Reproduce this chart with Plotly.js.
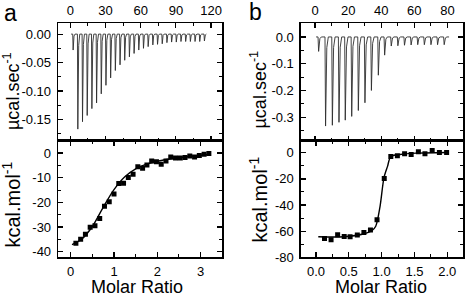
<!DOCTYPE html>
<html>
<head>
<meta charset="utf-8">
<script src="https://cdn.plot.ly/plotly-3.0.1.min.js"></script>
<style>html,body{margin:0;padding:0;background:#fff;}#chart{width:465px;height:298px;}</style>
</head>
<body>
<div id="chart"></div>
<script>
// ---------- Panel a : raw thermogram ----------
const injTimeA = [2, 6, 10, 14, 18, 22, 26, 30, 34, 38, 42, 46, 50, 54, 58, 62, 66, 70, 74, 78, 82, 86, 90, 94, 98, 102, 106, 110, 114];
const peakA = [-0.028, -0.167, -0.154, -0.143, -0.131, -0.121, -0.105, -0.090, -0.077, -0.064, -0.054, -0.046, -0.040, -0.034, -0.028, -0.025, -0.022, -0.019, -0.018, -0.017, -0.015, -0.014, -0.014, -0.013, -0.013, -0.013, -0.013, -0.013, -0.012];
const baseSpanA = [0.6, 116];
// ---------- Panel a : integrated heats ----------
const molarA = [0.12, 0.23, 0.34, 0.45, 0.56, 0.67, 0.78, 0.89, 1.00, 1.11, 1.22, 1.33, 1.44, 1.55, 1.66, 1.76, 1.87, 1.98, 2.09, 2.20, 2.31, 2.42, 2.53, 2.64, 2.75, 2.86, 2.97, 3.08, 3.19];
const heatA = [-36.6, -35.0, -32.9, -30.1, -29.5, -26.6, -21.6, -19.8, -16.6, -12.3, -12.2, -9.9, -8.6, -5.6, -6.2, -4.8, -3.2, -3.5, -4.5, -3.2, -1.6, -2.0, -2.0, -1.8, -1.2, -1.6, -1.0, -0.5, -0.2];
const fitXA = [0.03, 0.25, 0.5, 0.75, 1.0, 1.25, 1.5, 1.75, 2.0, 2.5, 3.2];
const fitYA = [-37.2, -35.0, -29.8, -22.0, -14.8, -9.6, -6.4, -4.5, -3.3, -1.9, -0.6];
// ---------- Panel b : raw thermogram ----------
const injTimeB = [1.8, 6.0, 10.1, 14.1, 17.9, 21.8, 25.8, 29.8, 33.7, 37.9, 41.7, 45.7, 49.7, 53.7, 57.7, 61.7, 65.7, 69.7, 73.7, 77.7];
const peakB = [-0.054, -0.333, -0.330, -0.319, -0.311, -0.297, -0.275, -0.246, -0.200, -0.143, -0.068, -0.034, -0.033, -0.031, -0.030, -0.029, -0.029, -0.029, -0.029, -0.029];
const baseSpanB = [0.6, 81];
// ---------- Panel b : integrated heats ----------
const molarB = [0.13, 0.23, 0.33, 0.43, 0.52, 0.63, 0.73, 0.83, 0.93, 1.04, 1.14, 1.24, 1.35, 1.45, 1.56, 1.66, 1.77, 1.88, 1.99];
const heatB = [-65.6, -66.5, -62.8, -64.1, -64.2, -62.9, -61.1, -59.1, -51.2, -19.6, -2.8, -2.3, -0.8, -1.3, 0.7, -0.8, 1.7, 0.2, 0.2];
const fitXB = [0.035, 0.42, 0.72, 0.85, 0.91, 0.975, 1.036, 1.09, 1.14, 1.28, 1.53, 1.99];
const fitYB = [-64.3, -64.3, -62.2, -59.7, -56.2, -41.4, -19.0, -10.4, -2.8, -1.3, -0.3, 0.2];
// ---------- tick labels ----------
const timeTicksA = [0, 30, 60, 90, 120];
const rateTicksA = [0, -0.05, -0.10, -0.15];
const rateLabelsA = ['0.00', '-0.05', '-0.10', '-0.15'];
const molarTicksA = [0, 1, 2, 3];
const heatTicksA = [0, -10, -20, -30, -40];
const heatLabelsA = ['0', '-10', '-20', '-30', '-40'];
const timeTicksB = [0, 20, 40, 60, 80];
const rateTicksB = [0, -0.1, -0.2, -0.3];
const rateLabelsB = ['0.0', '-0.1', '-0.2', '-0.3'];
const molarTicksB = [0, 0.5, 1.0, 1.5, 2.0];
const molarLabelsB = ['0.0', '0.5', '1.0', '1.5', '2.0'];
const heatTicksB = [0, -20, -40, -60, -80];
const heatLabelsB = ['0', '-20', '-40', '-60', '-80'];

// Build thermogram polyline from injection times & peak values
function thermogram(times, peaks, span) {
  const x = [span[0]], y = [0];
  for (let i = 0; i < times.length; i++) {
    const t = times[i], p = peaks[i];
    x.push(t, t + 0.35, t + 1.1, t + 2.0);
    y.push(0, p, p * 0.12, 0);
  }
  x.push(span[1]); y.push(0);
  return {x, y};
}
const thA = thermogram(injTimeA, peakA, baseSpanA);
const thB = thermogram(injTimeB, peakB, baseSpanB);

const FONT = 'Liberation Sans, Arial, Helvetica, sans-serif';
const spikeLine = {color: '#2e2e2e', width: 0.9};
const traces = [
  {x: thA.x, y: thA.y, xaxis: 'x', yaxis: 'y', mode: 'lines', line: spikeLine, hoverinfo: 'skip'},
  {x: fitXA, y: fitYA, xaxis: 'x2', yaxis: 'y2', mode: 'lines', line: {color: '#000', width: 1.4, shape: 'spline', smoothing: 1}},
  {x: molarA, y: heatA, xaxis: 'x2', yaxis: 'y2', mode: 'markers', marker: {symbol: 'square', size: 5, color: '#000'}},
  {x: thB.x, y: thB.y, xaxis: 'x3', yaxis: 'y3', mode: 'lines', line: spikeLine, hoverinfo: 'skip'},
  {x: fitXB, y: fitYB, xaxis: 'x4', yaxis: 'y4', mode: 'lines', line: {color: '#000', width: 1.4, shape: 'spline', smoothing: 0.8}},
  {x: molarB, y: heatB, xaxis: 'x4', yaxis: 'y4', mode: 'markers', marker: {symbol: 'square', size: 5, color: '#000'}}
];

const W = 465, H = 298;
const px = v => v / W, py = v => 1 - v / H;
const domA = [px(58.3), px(222.3)], domB = [px(301), px(463.3)];
const domUp = [py(140.5), py(23.3)], domLow = [py(257.3), py(140.5)];

function ax(extra, minorDt) {
  return Object.assign({
    showline: true, linecolor: '#000', linewidth: 1.6, mirror: 'allticks',
    ticks: 'inside', ticklen: 5, tickwidth: 1.2, tickcolor: '#000',
    showgrid: false, zeroline: false, tickmode: 'array',
    tickfont: {family: FONT, size: 13, color: '#000'},
    minor: {tickmode: 'linear', tick0: 0, dtick: minorDt, ticks: 'inside', ticklen: 3, tickwidth: 1, tickcolor: '#000', showgrid: false},
    fixedrange: true
  }, extra);
}

const layout = {
  width: W, height: H, margin: {l: 0, r: 0, t: 0, b: 0},
  paper_bgcolor: '#fff', plot_bgcolor: '#fff', showlegend: false,
  font: {family: FONT, color: '#000'},
  xaxis: ax({domain: domA, anchor: 'y', side: 'top', range: [-10.3, 129.6], tickvals: timeTicksA, ticktext: timeTicksA.map(String), ticklabelstandoff: 2}, 15),
  yaxis: ax({domain: domUp, anchor: 'x', range: [-0.187, 0.019], tickvals: rateTicksA, ticktext: rateLabelsA, ticklabelstandoff: 3}, 0.025),
  xaxis2: ax({domain: domA, anchor: 'y2', range: [-0.286, 3.50], tickvals: molarTicksA, ticktext: molarTicksA.map(String), ticklabelstandoff: 1}, 0.5),
  yaxis2: ax({domain: domLow, anchor: 'x2', range: [-42.3, 5.1], tickvals: heatTicksA, ticktext: heatLabelsA, ticklabelstandoff: 3}, 5),
  xaxis3: ax({domain: domB, anchor: 'y3', side: 'top', range: [-8.5, 89.6], tickvals: timeTicksB, ticktext: timeTicksB.map(String), ticklabelstandoff: 2}, 10),
  yaxis3: ax({domain: domUp, anchor: 'x3', range: [-0.387, 0.051], tickvals: rateTicksB, ticktext: rateLabelsB, ticklabelstandoff: 3}, 0.05),
  xaxis4: ax({domain: domB, anchor: 'y4', range: [-0.228, 2.244], tickvals: molarTicksB, ticktext: molarLabelsB, ticklabelstandoff: 1}, 0.25),
  yaxis4: ax({domain: domLow, anchor: 'x4', range: [-80, 9.4], tickvals: heatTicksB, ticktext: heatLabelsB, ticklabelstandoff: 3}, 10),
  annotations: [
    {text: 'a', x: px(10), y: py(13), xref: 'paper', yref: 'paper', showarrow: false, xanchor: 'center', yanchor: 'middle', font: {size: 23}},
    {text: 'b', x: px(255.5), y: py(12.5), xref: 'paper', yref: 'paper', showarrow: false, xanchor: 'center', yanchor: 'middle', font: {size: 23}},
    {text: 'µcal.sec<sup>-1</sup>', x: px(11.5), y: py(91.5), xref: 'paper', yref: 'paper', showarrow: false, textangle: -90, xanchor: 'center', yanchor: 'middle', font: {size: 18}},
    {text: 'µcal.sec<sup>-1</sup>', x: px(258.5), y: py(90), xref: 'paper', yref: 'paper', showarrow: false, textangle: -90, xanchor: 'center', yanchor: 'middle', font: {size: 18}},
    {text: 'kcal.mol<sup>-1</sup>', x: px(11.5), y: py(205), xref: 'paper', yref: 'paper', showarrow: false, textangle: -90, xanchor: 'center', yanchor: 'middle', font: {size: 20}},
    {text: 'kcal.mol<sup>-1</sup>', x: px(257.5), y: py(200), xref: 'paper', yref: 'paper', showarrow: false, textangle: -90, xanchor: 'center', yanchor: 'middle', font: {size: 20}},
    {text: 'Molar Ratio', x: px(137), y: py(286.5), xref: 'paper', yref: 'paper', showarrow: false, xanchor: 'center', yanchor: 'middle', font: {size: 18}},
    {text: 'Molar Ratio', x: px(381), y: py(286.5), xref: 'paper', yref: 'paper', showarrow: false, xanchor: 'center', yanchor: 'middle', font: {size: 18}}
  ]
};

Plotly.newPlot('chart', traces, layout, {staticPlot: true, displayModeBar: false});
</script>
</body>
</html>
